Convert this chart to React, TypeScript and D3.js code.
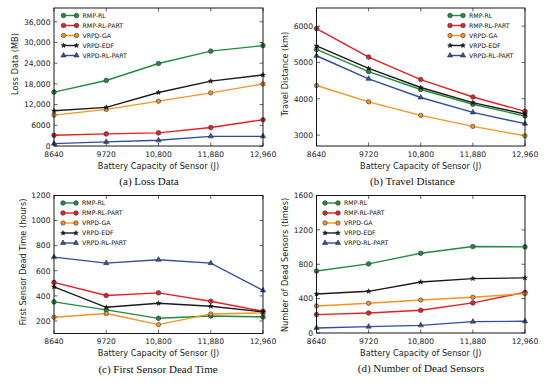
import React from "react";
import * as d3 from "d3";

const capacities = [8640, 9720, 10800, 11880, 12960];
const xTickLabels = ["8640", "9720", "10,800", "11,880", "12,960"];

const seriesNames = ["RMP-RL", "RMP-RL-PART", "VRPD-GA", "VRPD-EDF", "VRPD-RL-PART"];
const seriesColors = ["#1f8c3e", "#ec1c24", "#f7941e", "#1a1a1a", "#2e4ea3"];

// (a) loss data
const lossRmpRl = [15600, 19000, 23900, 27500, 29100];
const lossRmpRlPart = [3100, 3500, 3800, 5350, 7600];
const lossGa = [8950, 10600, 13000, 15400, 18000];
const lossEdf = [10200, 11200, 15500, 18800, 20600];
const lossRlPart = [700, 1200, 1650, 2800, 2800];
const lossTicks = [0, 6000, 12000, 18000, 24000, 30000, 36000];
const lossTickLabels = ["0", "6000", "12,000", "18,000", "24,000", "30,000", "36,000"];

// (b) travel distance
const travelRmpRl = [5360, 4750, 4255, 3850, 3525];
const travelRmpRlPart = [5935, 5150, 4530, 4050, 3655];
const travelGa = [4365, 3915, 3545, 3240, 2980];
const travelEdf = [5455, 4835, 4310, 3895, 3580];
const travelRlPart = [5185, 4550, 4035, 3625, 3315];
const travelTicks = [3000, 4000, 5000, 6000];

// (c) first sensor dead time
const deadTimeRmpRl = [352, 288, 221, 240, 232];
const deadTimeRmpRlPart = [507, 403, 424, 357, 277];
const deadTimeGa = [229, 259, 171, 256, 264];
const deadTimeEdf = [472, 309, 341, 317, 272];
const deadTimeRlPart = [709, 661, 688, 661, 443];
const deadTimeTicks = [200, 400, 600, 800, 1000, 1200];

// (d) number of dead sensors
const deadRmpRl = [722, 804, 928, 1006, 1002];
const deadRmpRlPart = [214, 233, 264, 350, 474];
const deadGa = [315, 346, 384, 416, 458];
const deadEdf = [454, 485, 594, 633, 641];
const deadRlPart = [58, 74, 89, 132, 136];
const deadTicks = [0, 400, 800, 1200, 1600];

const sans = "DejaVu Sans, sans-serif";
const serif = "Liberation Serif, Times New Roman, serif";

type PanelProps = {
  left: number; right: number; top: number; bottom: number;
  yDomain: [number, number];
  yTicks: number[];
  yTickLabels: string[];
  series: number[][];
  yLabel: string;
  yLabelX: number;
  yLabelY: number;
  caption: string;
  captionX: number;
  legendX: number;
};

function marker(i: number, x: number, y: number, color: string) {
  const types = [d3.symbolCircle, d3.symbolCircle, d3.symbolCircle, d3.symbolStar, d3.symbolTriangle];
  const sizes = [17, 17, 15, 7, 12];
  const path = d3.symbol().type(types[i]).size(sizes[i])()!;
  return (
    <path key={"m" + i + "-" + x} d={path} transform={`translate(${x},${y})`}
      fill={color} stroke={i === 3 ? color : "#333"} strokeWidth={0.6} />
  );
}

function Panel(p: PanelProps) {
  const x = d3.scaleLinear().domain([8640, 12960]).range([p.left, p.right]);
  const y = d3.scaleLinear().domain(p.yDomain).range([p.bottom, p.top]);
  const line = d3.line<number>().x((_, i) => x(capacities[i])).y((d) => y(d));
  const tl = 3.5;
  const midX = (p.left + p.right) / 2;

  return (
    <g>
      {capacities.map((c) => (
        <g key={"xt" + c}>
          <line x1={x(c)} x2={x(c)} y1={p.bottom} y2={p.bottom - tl} stroke="#000" strokeWidth={0.6} />
          <line x1={x(c)} x2={x(c)} y1={p.top} y2={p.top + tl} stroke="#000" strokeWidth={0.6} />
        </g>
      ))}
      {p.yTicks.map((t) => (
        <g key={"yt" + t}>
          <line x1={p.left} x2={p.left + tl} y1={y(t)} y2={y(t)} stroke="#000" strokeWidth={0.6} />
          <line x1={p.right} x2={p.right - tl} y1={y(t)} y2={y(t)} stroke="#000" strokeWidth={0.6} />
        </g>
      ))}
      {p.series.map((vals, i) => (
        <g key={"s" + i}>
          <path d={line(vals)!} fill="none" stroke={seriesColors[i]} strokeWidth={1.4} />
          {vals.map((v, j) => marker(i, x(capacities[j]), y(v), seriesColors[i]))}
        </g>
      ))}
      <rect x={p.left} y={p.top} width={p.right - p.left} height={p.bottom - p.top}
        fill="none" stroke="#000" strokeWidth={0.9} />
      {capacities.map((c, i) => (
        <text key={"xl" + c} x={x(c)} y={p.bottom + 10.5} textAnchor="middle"
          fontFamily={sans} fontSize={7.6} fill="#222">{xTickLabels[i]}</text>
      ))}
      {p.yTicks.map((t, i) => (
        <text key={"yl" + t} x={p.left - 3.5} y={y(t) + 2.8} textAnchor="end"
          fontFamily={sans} fontSize={7.6} fill="#222">{p.yTickLabels[i]}</text>
      ))}
      <text x={midX} y={p.bottom + 22.5} textAnchor="middle" fontFamily={sans}
        fontSize={8.2} fill="#222">Battery Capacity of Sensor (J)</text>
      <text transform={`translate(${p.yLabelX},${p.yLabelY}) rotate(-90)`} textAnchor="middle"
        dominantBaseline="central" fontFamily={sans} fontSize={8.2} fill="#222">{p.yLabel}</text>
      <text x={p.captionX} y={p.bottom + 39} textAnchor="middle" fontFamily={serif}
        fontSize={11} fill="#111">{p.caption}</text>
      {seriesNames.map((n, i) => {
        const ly = p.top + 7.5 + i * 10;
        return (
          <g key={"lg" + i}>
            <line x1={p.legendX} x2={p.legendX + 13} y1={ly} y2={ly} stroke={seriesColors[i]} strokeWidth={1.4} />
            {marker(i, p.legendX, ly, seriesColors[i])}
            {marker(i, p.legendX + 13, ly, seriesColors[i])}
            <text x={p.legendX + 19} y={ly + 2.2} fontFamily={sans} fontSize={6.2} fill="#111">{n}</text>
          </g>
        );
      })}
    </g>
  );
}

export default function App() {
  return (
    <svg width={550} height={385} style={{ position: "absolute", left: 0, top: 0, background: "#fff" }}>
      <rect width={550} height={385} fill="#fff" />
      <Panel left={54} right={263} top={8} bottom={146} yDomain={[0, 40000]}
        yTicks={lossTicks} yTickLabels={lossTickLabels}
        series={[lossRmpRl, lossRmpRlPart, lossGa, lossEdf, lossRlPart]}
        yLabel="Loss Data (MB)" yLabelX={15} yLabelY={64} caption="(a) Loss Data" captionX={149} legendX={63.5} />
      <Panel left={316.5} right={525} top={8} bottom={146} yDomain={[2700, 6500]}
        yTicks={travelTicks} yTickLabels={travelTicks.map(String)}
        series={[travelRmpRl, travelRmpRlPart, travelGa, travelEdf, travelRlPart]}
        yLabel="Travel Distance (km)" yLabelX={284.5} yLabelY={74} caption="(b) Travel Distance" captionX={412.5} legendX={450} />
      <Panel left={54} right={263} top={195.5} bottom={333.5} yDomain={[100, 1200]}
        yTicks={deadTimeTicks} yTickLabels={deadTimeTicks.map(String)}
        series={[deadTimeRmpRl, deadTimeRmpRlPart, deadTimeGa, deadTimeEdf, deadTimeRlPart]}
        yLabel="First Sensor Dead Time (hours)" yLabelX={22.5} yLabelY={262} caption="(c) First Sensor Dead Time" captionX={158} legendX={63} />
      <Panel left={316.5} right={525} top={195.5} bottom={333} yDomain={[0, 1600]}
        yTicks={deadTicks} yTickLabels={deadTicks.map(String)}
        series={[deadRmpRl, deadRmpRlPart, deadGa, deadEdf, deadRlPart]}
        yLabel="Number of Dead Sensors (times)" yLabelX={284.5} yLabelY={265} caption="(d) Number of Dead Sensors" captionX={421} legendX={325} />
    </svg>
  );
}
